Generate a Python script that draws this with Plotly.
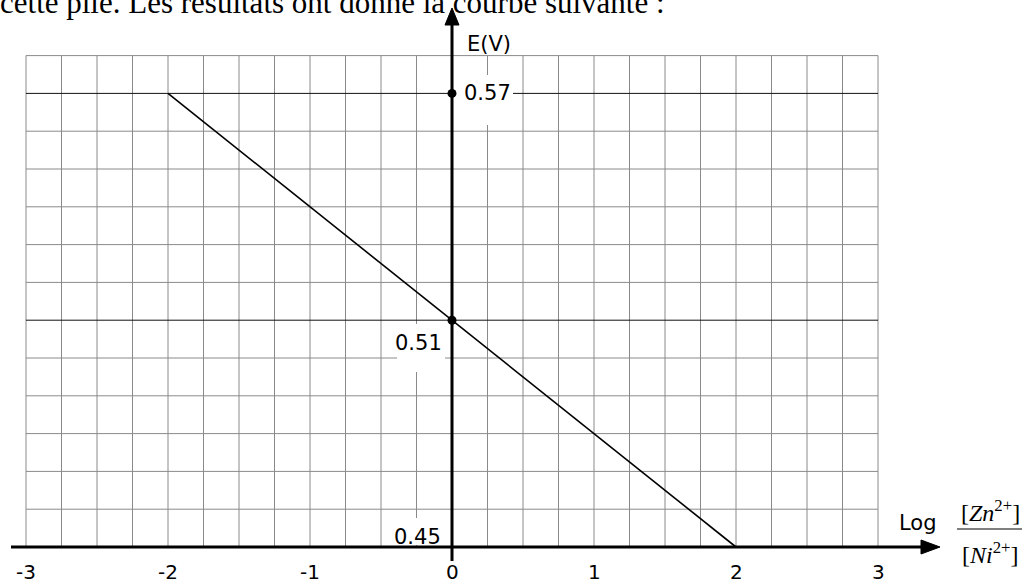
import numpy as np
import plotly.graph_objects as go

# points read on the curve E = f(log [Zn2+]/[Ni2+])
log_ratio = [-2, 0, 2]
emf = [0.57, 0.51, 0.45]
marked_x = [0, 0]
marked_y = [0.57, 0.51]
x_ticks = [-3, -2, -1, 0, 1, 2, 3]

W, H = 1032, 585
# pixel mapping used to place the frame like the scanned sheet
X0, XU = 452, 142.0      # px of x=0, px per unit
Y0, YU = 547, 3780.0     # px of E=0.45, px per volt

def px_x(p):
    return (p - X0) / XU

def px_y(p):
    return 0.45 + (Y0 - p) / YU

fig = go.Figure()

shapes = []
grid_x = np.arange(-3, 3.001, 0.25)
grid_y = np.arange(0.45, 0.5801, 0.01)
for gx in grid_x:
    shapes.append(dict(type="line", x0=gx, x1=gx, y0=0.45, y1=0.58,
                       line=dict(color="#8a8a8a", width=1), layer="below"))
for gy in grid_y:
    dark = abs(gy - 0.57) < 1e-6 or abs(gy - 0.51) < 1e-6
    shapes.append(dict(type="line", x0=-3, x1=3, y0=gy, y1=gy,
                       line=dict(color="#111" if dark else "#8a8a8a", width=1), layer="below"))

# white patches behind the value labels
for (a, b, c, d) in [(456, 513, 75, 125), (397, 445, 324, 372), (395, 446, 518, 545)]:
    shapes.append(dict(type="rect", x0=px_x(a), x1=px_x(b), y0=px_y(d), y1=px_y(c),
                       fillcolor="white", line=dict(width=0), layer="below"))

# axes with arrow heads
shapes.append(dict(type="line", x0=px_x(11), x1=px_x(926), y0=0.45, y1=0.45,
                   line=dict(color="black", width=3)))
shapes.append(dict(type="line", x0=0, x1=0, y0=px_y(561), y1=px_y(20),
                   line=dict(color="black", width=3)))
shapes.append(dict(type="path",
                   path=f"M {px_x(940)},{px_y(547)} L {px_x(921)},{px_y(540)} L {px_x(921)},{px_y(554)} Z",
                   fillcolor="black", line=dict(color="black", width=1)))
shapes.append(dict(type="path",
                   path=f"M {px_x(452)},{px_y(8)} L {px_x(445)},{px_y(25)} L {px_x(459)},{px_y(25)} Z",
                   fillcolor="black", line=dict(color="black", width=1)))

fig.add_trace(go.Scatter(x=log_ratio, y=emf, mode="lines",
                         line=dict(color="black", width=1.6), hoverinfo="skip"))
fig.add_trace(go.Scatter(x=marked_x, y=marked_y, mode="markers",
                         marker=dict(color="black", size=9), hoverinfo="skip"))

lab = dict(family="DejaVu Sans", size=21, color="black")
ann = []
for t in x_ticks:
    ann.append(dict(x=t, y=px_y(572), xref="x", yref="y", text=str(t), showarrow=False,
                    yanchor="middle", font=dict(family="DejaVu Sans", size=20, color="black")))
ann.append(dict(x=px_x(462), y=0.57, text="0.57", xanchor="left", showarrow=False, font=lab))
ann.append(dict(x=px_x(444), y=px_y(343), text="0.51", xanchor="right", showarrow=False, font=lab))
ann.append(dict(x=px_x(443), y=0.45, text="0.45", xanchor="right", yanchor="bottom",
                yshift=-4, showarrow=False, font=lab))
ann.append(dict(x=px_x(465), y=px_y(44), text="E(V)", xanchor="left", showarrow=False, font=lab))
ann.append(dict(x=px_x(897), y=px_y(523), text="Log", xanchor="left", showarrow=False, font=lab))
serif = dict(family="Liberation Serif", size=24, color="black")
ann.append(dict(x=px_x(990), y=px_y(511), text="[<i>Zn</i><sup>2+</sup>]", showarrow=False, font=serif))
ann.append(dict(x=px_x(990), y=px_y(553), text="[<i>Ni</i><sup>2+</sup>]", showarrow=False, font=serif))
shapes.append(dict(type="line", x0=px_x(957), x1=px_x(1022), y0=px_y(529), y1=px_y(529),
                   line=dict(color="black", width=1.2)))
ann.append(dict(x=0, y=1 - 3 / H, xref="paper", yref="paper", xshift=-2,
                xanchor="left", yanchor="middle", showarrow=False,
                text="cette pile. Les résultats ont donné la courbe suivante :",
                font=dict(family="Liberation Serif", size=31, color="black")))

fig.update_layout(
    width=W, height=H,
    margin=dict(l=0, r=0, t=0, b=0),
    paper_bgcolor="white", plot_bgcolor="white",
    showlegend=False,
    xaxis=dict(range=[px_x(0), px_x(W)], visible=False, fixedrange=True),
    yaxis=dict(range=[px_y(H), px_y(0)], visible=False, fixedrange=True),
    shapes=shapes,
    annotations=ann,
)

fig.write_html("out.html", config={"displayModeBar": False},
               post_script="document.body.style.margin='0px';")
